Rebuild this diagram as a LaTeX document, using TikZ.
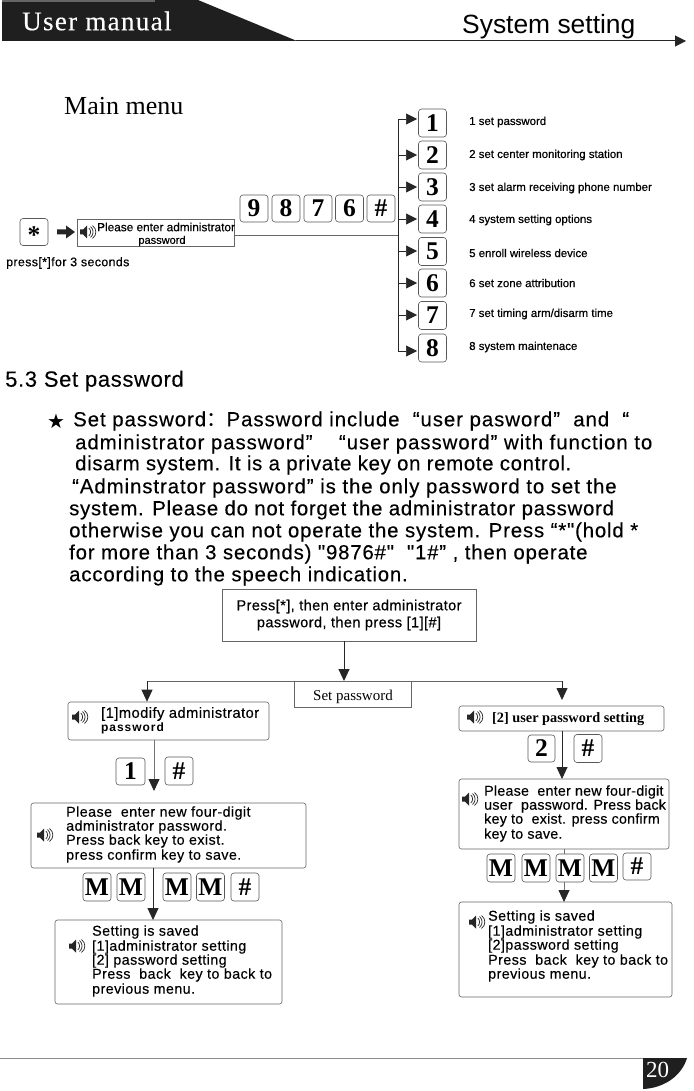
\documentclass[tikz,border=0pt]{standalone}
\usepackage{fontspec}
\setmainfont{Liberation Sans}
\newfontfamily\sansp{Liberation Sans}
\newfontfamily\serifl{Liberation Serif}
\newfontfamily\cjkf{Noto Sans CJK SC}
\usetikzlibrary{arrows.meta}
\tikzset{
  x=1pt,y=-1pt,
  flow/.style={draw=black!85,line width=.8pt},
  arr/.style={flow,-{Triangle[length=12pt,width=11pt]}},
  arrg/.style={draw=black!55,line width=.8pt,-{Triangle[length=12pt,width=11pt,color=black!85,fill=black!85]}},
  sarr/.style={draw=black!85,line width=.7pt,-{Triangle[length=11pt,width=11pt]}},
  rbox/.style={draw=black!60,line width=.6pt,rounded corners=2.5pt},
  sbox/.style={draw=black!60,line width=.6pt},
  keybox/.style={draw=black!65,fill=white,line width=.6pt,rounded corners=3pt,inner sep=0pt,align=center,font=\serifl\bfseries\fontsize{25.5}{25}\selectfont},
  para/.style={anchor=west,inner sep=0pt,font=\sansp\fontsize{20.4}{22}\selectfont\addfontfeature{LetterSpace=4,FakeBold=0.25}},
  msg/.style={anchor=west,inner sep=0pt,font=\sansp\fontsize{14.3}{16}\selectfont\addfontfeature{LetterSpace=3,FakeBold=0.25}},
  msgn/.style={anchor=west,inner sep=0pt,font=\sansp\fontsize{14.3}{16}\selectfont\addfontfeature{LetterSpace=1.5,FakeBold=0.25}},
  menu/.style={anchor=west,inner sep=0pt,font=\sansp\fontsize{11.45}{12}\selectfont\addfontfeature{FakeBold=0.5}},
  pics/speaker/.style={code={
    \fill[black!85] (-8,-2.5) -- (-5,-2.5) -- (-1,-6.5) -- (-1,6.5) -- (-5,2.5) -- (-8,2.5) -- cycle;
    \draw[black!85,line width=.7pt] (0.8,-4) .. controls (3.2,-2) and (3.2,2) .. (0.8,4);
    \draw[black!85,line width=.7pt] (2.5,-5.5) .. controls (6,-2.5) and (6,2.5) .. (2.5,5.5);
    \draw[black!85,line width=.7pt] (4.5,-6.5) .. controls (9,-3) and (9,3) .. (4.5,6.5);
  }}
}
\newcommand{\keyat}[6]{\node[keybox,minimum width=#3pt,minimum height=#4pt] (#5) at (#1,#2) {#6};}
\begin{document}
\begin{tikzpicture}
\useasboundingbox (0,0) rectangle (693,1091);
\fill[white] (0,0) rectangle (693,1091);
% header
\fill[black!88] (2,2) -- (2,41) -- (297,41) -- (198,0) -- (155,0) -- (155,2) -- cycle;
\fill[black!60] (2,0) rectangle (155,2);
\coordinate (hl) at (296,41);
\coordinate (hr) at (686,41);
\draw[sarr,line width=1pt] (hl) -- (hr);
\node[anchor=west,inner sep=0pt,text=white,font=\serifl\fontsize{27}{27}\selectfont\addfontfeature{LetterSpace=5,FakeBold=0.3}] (um) at (22,21) {User manual};
\node[anchor=west,inner sep=0pt,font=\fontsize{26.4}{27}\selectfont] (ss) at (462,27) {System setting};
\node[anchor=west,inner sep=0pt,font=\serifl\fontsize{26}{26}\selectfont] (mm) at (64,106) {Main menu};
% main menu
\keyat{34}{232}{28}{27}{ks}{}
\node[inner sep=0pt,font=\serifl\bfseries\fontsize{25.5}{25}\selectfont] (kst) at (34,235) {*};
\node[inner sep=0pt,minimum width=157pt,minimum height=27pt,sbox,draw] (pbox) at (155.5,232.5) {};
\node[inner sep=0pt,font=\sansp\fontsize{11.8}{12}\selectfont\addfontfeature{FakeBold=0.4},anchor=west] (pt1) at (97,227) {Please enter administrator};
\node[inner sep=0pt,font=\sansp\fontsize{11}{12}\selectfont\addfontfeature{FakeBold=0.4}] (pt2) at (162,241) {password};
\pic at (88,232) {speaker};
\coordinate (ba) at (58,232);
\fill[black!85] (57,229.5) -- (66,229.5) -- (66,225.5) -- (75,232) -- (66,238.5) -- (66,234.5) -- (57,234.5) -- cycle;
\node[anchor=west,inner sep=0pt,font=\sansp\fontsize{12.4}{13}\selectfont\addfontfeature{LetterSpace=3,FakeBold=0.5}] (pr) at (6,263) {press[*]for 3 seconds};
\keyat{254}{208.5}{28}{27}{k9}{9}
\keyat{286}{208.5}{28}{27}{k8}{8}
\keyat{318}{208.5}{28}{27}{k7}{7}
\keyat{349.5}{208.5}{28}{27}{k6}{6}
\keyat{381}{208.5}{28}{27}{kh}{\#}
\coordinate (tr) at (398,235);
\draw[flow,draw=black!60] (pbox.east|-tr) -- (tr);
\coordinate (vt) at (398,119);
\coordinate (vb) at (398,351);
\draw[flow] (vt) -- (vb);
\foreach \yy/\cy/\nn/\lab/\ly in {
 119/123/1/{1 set password}/122,
 155/155/2/{2 set center monitoring station}/155,
 187/187/3/{3 set alarm receiving phone number}/188,
 219/219/4/{4 system setting options}/220,
 251/251.5/5/{5 enroll wireless device}/253,
 283/283/6/{6 set zone attribution}/283,
 315/315.5/7/{7 set timing arm/disarm time}/314,
 351/348/8/{8 system maintenace}/347}{
  \keyat{432.5}{\cy}{28}{28}{m\nn}{\nn}
  \coordinate (a\nn) at (398,\yy);
  \draw[sarr] (a\nn) -- (417,\yy);
  \node[menu] (l\nn) at (469,\ly) {\lab};
}
% section
\node[anchor=west,inner sep=0pt,font=\sansp\fontsize{22}{24}\selectfont\addfontfeature{LetterSpace=3,FakeBold=0.2}] (sec) at (5,381) {5.3 Set password};
\node[inner sep=0pt,font=\fontsize{20}{20}\selectfont] (star) at (56,421) {\fontspec{DejaVu Sans}★};
\node[para] (p1) at (73,421) {\addfontfeature{LetterSpace=4.6}Set password{\cjkf\fontsize{20.4}{22}\selectfont ：}Password include \ “user pasword” \ and \ “};
\node[para] (p2) at (75,444) {\addfontfeature{LetterSpace=4.6}administrator password”\ \ \ \ “user password” with function to};
\node[para] (p3) at (75,465) {\addfontfeature{LetterSpace=3.2}disarm system. It is a private key on remote control.};
\node[para] (p4) at (72,488) {\addfontfeature{LetterSpace=4.5}“Adminstrator password” is the only password to set the};
\node[para] (p5) at (69,510) {\addfontfeature{LetterSpace=3.5}system. Please do not forget the administrator password};
\node[para] (p6) at (69,532) {otherwise you can not operate the system. Press “*"(hold *};
\node[para] (p7) at (69,554) {for more than 3 seconds) "9876\#"\ \ "1\#” , then operate};
\node[para] (p8) at (69,576) {according to the speech indication.};
% flow
\node[sbox,draw,minimum width=254pt,minimum height=52pt,inner sep=0pt,align=center,font=\sansp\fontsize{14.5}{17}\selectfont\addfontfeature{LetterSpace=3,FakeBold=0.4}] (top) at (349,615) {Press[*], then enter administrator\\password, then press [1][\#]};
\coordinate (ja) at (344,681);
\coordinate (jl) at (147,681);
\coordinate (jr) at (562,681);
\draw[arr,line width=1pt] (top.south-|ja) -- (ja);
\draw[flow,draw=black!60] (jl) -- (jr);
\node[sbox,draw,minimum width=117pt,minimum height=26pt,inner sep=0pt] (setp) at (352.5,694) {};
\node[inner sep=0pt,font=\serifl\fontsize{15}{15}\selectfont] (setpt) at (353,697) {Set password};
\node[rbox,draw,minimum width=201pt,minimum height=38pt,inner sep=0pt] (b1) at (168.5,721) {};
\node[msg,font=\sansp\fontsize{14.7}{16}\selectfont\addfontfeature{LetterSpace=3,FakeBold=0.25}] (b1a) at (101,714) {[1]modify administrator};
\node[msg,font=\sansp\bfseries\fontsize{12}{12}\selectfont\addfontfeature{LetterSpace=8}] (b1b) at (101,728) {password};
\pic at (80,717) {speaker};
\draw[arr] (jl) -- (jl|-b1.north);
\keyat{130.5}{771.5}{29}{27}{k1}{1}
\keyat{179}{771}{28}{28}{k2h}{\#}
\node[rbox,draw,minimum width=275pt,minimum height=65pt,inner sep=0pt] (b2) at (168.5,835.5) {};
\node[msg] (b2a) at (66,813) {Please\ \ enter new four-digit};
\node[msg] (b2b) at (66,827) {administrator password.};
\node[msg] (b2c) at (66,841) {Press back key to exist.};
\node[msg] (b2d) at (66,856) {press confirm key to save.};
\pic at (45,835) {speaker};
\coordinate (b1s) at (154,740);
\coordinate (b2n) at (154,791);
\draw[arrg] (b1s) -- (b2n);
\keyat{97}{887}{28}{28}{kM1}{M}
\keyat{131}{887}{28}{28}{kM2}{M}
\keyat{177}{887}{28}{28}{kM3}{M}
\keyat{210.5}{887}{28}{28}{kM4}{M}
\keyat{245}{887}{28}{28}{kM5}{\#}
\node[rbox,draw,minimum width=227pt,minimum height=84pt,inner sep=0pt] (b3) at (168.5,962) {};
\node[msg] (b3a) at (92,932) {Setting is saved};
\node[msg] (b3b) at (92,947) {[1]administrator setting};
\node[msg] (b3c) at (92,961) {[2] password setting};
\node[msg] (b3d) at (92,975) {Press\ \ back\ \ key to back to};
\node[msg] (b3e) at (92,990) {previous menu.};
\pic at (77,946) {speaker};
\coordinate (b2s) at (153,868);
\coordinate (b3n) at (153,920);
\draw[arr] (b2s) -- (b3n);
% right
\node[rbox,draw,minimum width=205pt,minimum height=25pt,inner sep=0pt] (r1) at (561.5,718.5) {};
\node[anchor=west,inner sep=0pt,font=\serifl\bfseries\fontsize{14.3}{15}\selectfont] (r1a) at (492,719) {[2] user password setting};
\pic at (475,717) {speaker};
\coordinate (r1t) at (562,700);
\draw[arr] (jr) -- (r1t);
\coordinate (r1s) at (562,731);
\coordinate (r2n) at (562,779);
\draw[arr] (r1s) -- (r2n);
\keyat{541.5}{748.5}{27}{27}{k2}{2}
\keyat{588}{748.5}{28}{28}{kr2h}{\#}
\node[rbox,draw,minimum width=210pt,minimum height=70pt,inner sep=0pt] (r2) at (564,814) {};
\node[msgn] (r2a) at (484,792) {Please\ \ enter new four-digit};
\node[msgn] (r2b) at (484,806) {user\ \ password. Press back};
\node[msgn] (r2c) at (484,820) {key to\ \ exist. press confirm};
\node[msgn] (r2d) at (484,835) {key to save.};
\pic at (470,799) {speaker};
\node[rbox,draw,minimum width=213pt,minimum height=95pt,inner sep=0pt] (r3) at (565.5,949.5) {};
\coordinate (r2s) at (564,849);
\coordinate (r3n) at (564,902);
\draw[arrg] (r2s) -- (r3n);
\keyat{501}{868}{28}{28}{rM1}{M}
\keyat{536}{868}{28}{28}{rM2}{M}
\keyat{570}{868}{28}{28}{rM3}{M}
\keyat{603.5}{868}{28}{28}{rM4}{M}
\keyat{637}{866.5}{28}{27}{rM5}{\#}
\node[msg] (r3a) at (488,917) {Setting is saved};
\node[msg] (r3b) at (488,932) {[1]administrator setting};
\node[msg] (r3c) at (488,946) {[2]password setting};
\node[msg] (r3d) at (488,961) {Press\ \ back\ \ key to back to};
\node[msg] (r3e) at (488,975) {previous menu.};
\pic at (477,922) {speaker};
% footer
\draw[draw=black!45,line width=.6pt] (0,1058) -- (645,1058);
\fill[black!88] (643,1058) -- (687,1058) .. controls (682,1075) and (665,1088) .. (643,1089) -- cycle;
\node[text=white,anchor=west,inner sep=0pt,font=\serifl\fontsize{23}{23}\selectfont] (pg) at (646,1070) {20};
\end{tikzpicture}
\end{document}
